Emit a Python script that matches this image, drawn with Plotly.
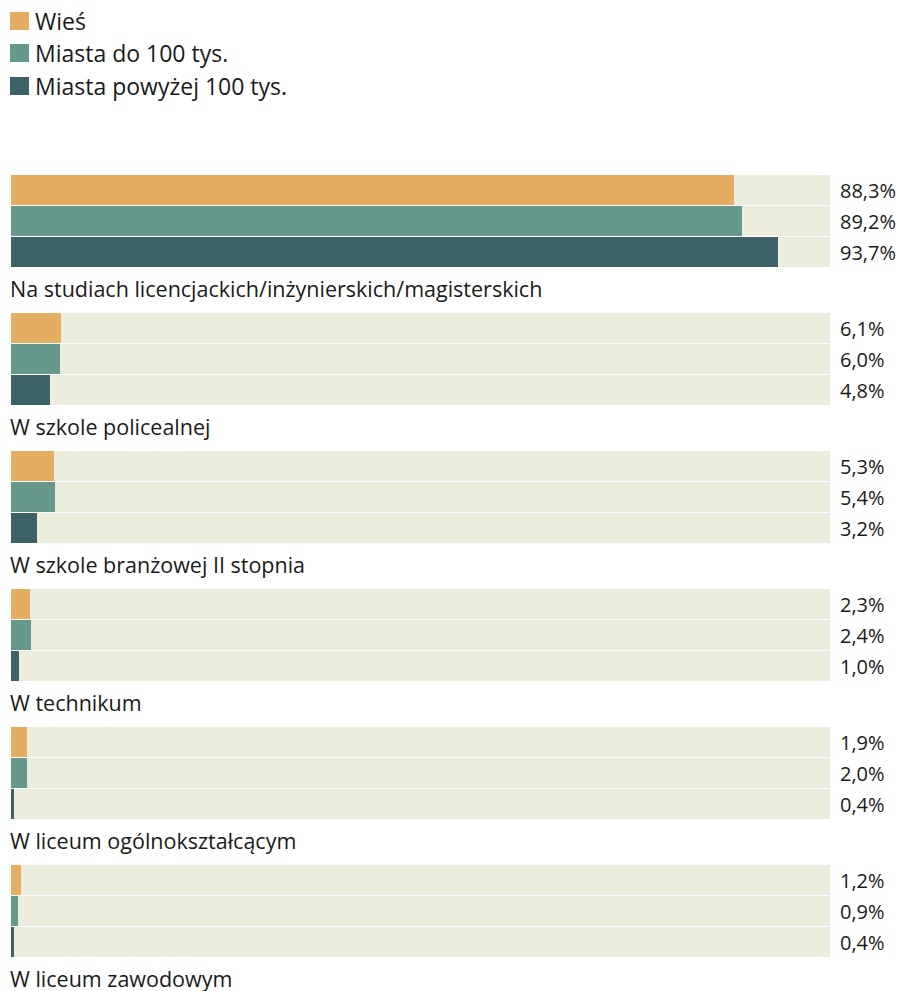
import plotly.graph_objects as go

# data
categories = [
    "Na studiach licencjackich/inżynierskich/magisterskich",
    "W szkole policealnej",
    "W szkole branżowej II stopnia",
    "W technikum",
    "W liceum ogólnokształcącym",
    "W liceum zawodowym",
]
series_names = ["Wieś", "Miasta do 100 tys.", "Miasta powyżej 100 tys."]
wies = [88.3, 6.1, 5.3, 2.3, 1.9, 1.2]
miasta_do_100 = [89.2, 6.0, 5.4, 2.4, 2.0, 0.9]
miasta_pow_100 = [93.7, 4.8, 3.2, 1.0, 0.4, 0.4]
values = [wies, miasta_do_100, miasta_pow_100]

colors = ["#E3AE62", "#66998B", "#3D6169"]
track_color = "#EDEDDE"
font_family = "'Open Sans', sans-serif"

# layout geometry (y axis in pixels, top down)
W, H = 907, 991
first_top = 175
group_pitch = 138
bar_pitch = 31
bar_h = 30
label_off = 113


def bar_center(g, k):
    return first_top + g * group_pitch + k * bar_pitch + bar_h / 2


fig = go.Figure()

for k, name in enumerate(series_names):
    ys = [bar_center(g, k) for g in range(len(categories))]
    fig.add_trace(go.Bar(x=[100] * len(ys), y=ys, orientation="h", width=bar_h,
                         marker=dict(color=track_color, line=dict(width=0)),
                         showlegend=False, hoverinfo="skip"))
    fig.add_trace(go.Bar(x=values[k], y=ys, orientation="h", width=bar_h, name=name,
                         marker=dict(color=colors[k], line=dict(width=0)),
                         showlegend=False))
    for g, v in enumerate(values[k]):
        fig.add_annotation(x=100, y=ys[g], xref="x", yref="y", xanchor="left",
                           xshift=8, showarrow=False,
                           text=f"{v:.1f}%".replace(".", ","),
                           font=dict(size=20, color="#1a1a1a", family=font_family))

for g, cat in enumerate(categories):
    fig.add_annotation(x=0, y=first_top + g * group_pitch + label_off, xref="x", yref="y",
                       xanchor="left", xshift=-3, showarrow=False, text=cat,
                       font=dict(size=21.5, color="#1a1a1a", family=font_family))

# legend drawn by hand
leg_y = [21, 53, 86]
for k, name in enumerate(series_names):
    fig.add_shape(type="rect", xref="paper", yref="y", x0=-1 / 819, x1=18 / 819,
                  y0=leg_y[k] - 9, y1=leg_y[k] + 9,
                  fillcolor=colors[k], line=dict(width=0))
    fig.add_annotation(x=22 / 819, y=leg_y[k], xref="paper", yref="y", xanchor="left",
                       showarrow=False, text=name,
                       font=dict(size=23, color="#1a1a1a", family=font_family))

fig.update_layout(
    width=W, height=H,
    margin=dict(l=11, r=77, t=0, b=0),
    barmode="overlay", bargap=0,
    plot_bgcolor="white", paper_bgcolor="white",
    xaxis=dict(range=[0, 100], visible=False, fixedrange=True),
    yaxis=dict(range=[H, 0], visible=False, fixedrange=True),
    showlegend=False,
)

fig.write_html("out.html", config={"displayModeBar": False},
               post_script="document.body.style.margin='0';")
